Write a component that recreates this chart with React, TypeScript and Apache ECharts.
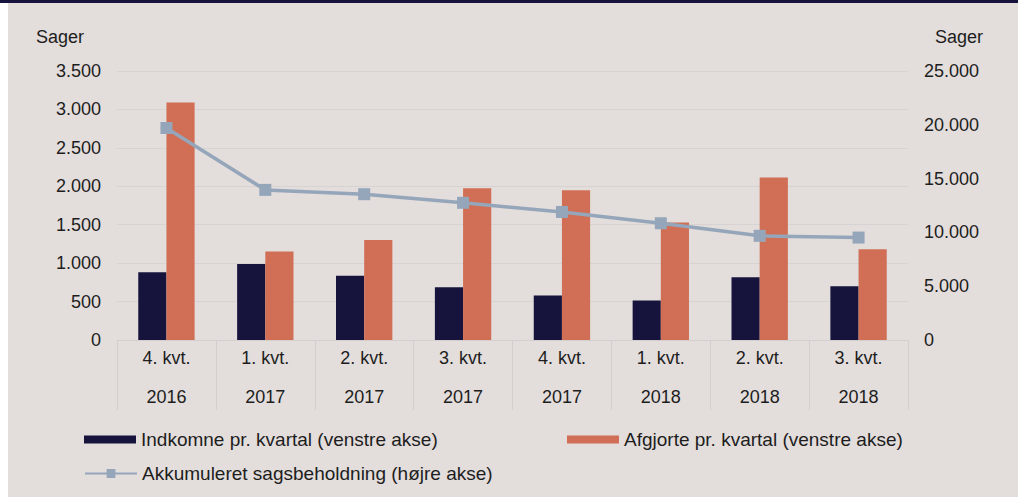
import React, { useEffect, useRef } from "react";
import * as echarts from "echarts";

const quarters = ["4. kvt.", "1. kvt.", "2. kvt.", "3. kvt.", "4. kvt.", "1. kvt.", "2. kvt.", "3. kvt."];
const years = ["2016", "2017", "2017", "2017", "2017", "2018", "2018", "2018"];
const indkomne = [880, 990, 835, 685, 580, 515, 815, 700];
const afgjorte = [3090, 1150, 1300, 1975, 1950, 1530, 2115, 1180];
const sagsbeholdning = [19700, 13950, 13550, 12750, 11900, 10850, 9680, 9520];

const seriesNames = [
  "Indkomne pr. kvartal (venstre akse)",
  "Afgjorte pr. kvartal (venstre akse)",
  "Akkumuleret sagsbeholdning (højre akse)",
];

const NAVY = "#16143c";
const ORANGE = "#d06f55";
const LINE = "#95a6ba";
const TEXT = "#1d1d1d";
const FONT = "Liberation Sans, Arial, sans-serif";

const fmt = (v: number) => String(v).replace(/\B(?=(\d{3})+(?!\d))/g, ".");

export default function App() {
  const ref = useRef<HTMLDivElement>(null);
  useEffect(() => {
    document.body.style.margin = "0";
    const chart = echarts.init(ref.current!, null, { renderer: "svg" });
    const legendText = { fontSize: 19, color: TEXT, fontFamily: FONT };
    chart.setOption({
      animation: false,
      backgroundColor: "transparent",
      textStyle: { fontFamily: FONT },
      grid: { left: 117, right: 110, top: 71, bottom: 157 },
      graphic: [
        { type: "rect", shape: { x: 0, y: 0, width: 1018, height: 3 }, style: { fill: NAVY } },
        { type: "text", x: 36, y: 37, style: { text: "Sager", fontSize: 18, fill: TEXT, fontFamily: FONT, verticalAlign: "middle" } },
        { type: "text", x: 935, y: 37, style: { text: "Sager", fontSize: 18, fill: TEXT, fontFamily: FONT, verticalAlign: "middle" } },
      ],
      legend: [
        {
          data: [seriesNames[0]], left: 79, top: 425, itemWidth: 52, itemHeight: 8, itemGap: 5,
          textStyle: legendText, icon: "rect",
        },
        {
          data: [seriesNames[1]], left: 562, top: 425, itemWidth: 52, itemHeight: 8, itemGap: 5,
          textStyle: legendText, icon: "rect",
        },
        {
          data: [seriesNames[2]], left: 79, top: 459, itemWidth: 52, itemHeight: 11, itemGap: 5,
          textStyle: legendText,
        },
      ],
      xAxis: {
        type: "category",
        data: quarters.map((q, i) => q + "\n" + years[i]),
        axisLine: { lineStyle: { color: "#d3cfce", width: 1 } },
        axisTick: { show: true, length: 70, interval: 0, lineStyle: { color: "#d3cfce" } },
        axisLabel: { interval: 0, fontSize: 18, color: TEXT, lineHeight: 39, margin: -2, fontFamily: FONT },
      },
      yAxis: [
        {
          type: "value", min: 0, max: 3500, interval: 500,
          axisLabel: { fontSize: 18, color: TEXT, margin: 16, formatter: (v: number) => fmt(v), fontFamily: FONT },
          axisLine: { show: false }, axisTick: { show: false },
          splitLine: { lineStyle: { color: "#d7d3d2", width: 1 } },
        },
        {
          type: "value", min: 0, max: 25000, interval: 5000, position: "right",
          axisLabel: { fontSize: 18, color: TEXT, margin: 16, formatter: (v: number) => fmt(v), fontFamily: FONT },
          axisLine: { show: false }, axisTick: { show: false },
          splitLine: { show: false },
        },
      ],
      series: [
        {
          name: seriesNames[0], type: "bar", data: indkomne, yAxisIndex: 0,
          itemStyle: { color: NAVY }, barWidth: "28.5%", barGap: "0%",
        },
        {
          name: seriesNames[1], type: "bar", data: afgjorte, yAxisIndex: 0,
          itemStyle: { color: ORANGE }, barWidth: "28.5%", barGap: "0%",
        },
        {
          name: seriesNames[2], type: "line", data: sagsbeholdning, yAxisIndex: 1,
          lineStyle: { color: LINE, width: 3.5 }, itemStyle: { color: LINE },
          symbol: "rect", symbolSize: 12, showSymbol: true, z: 5,
        },
      ],
    });
    return () => chart.dispose();
  }, []);
  return (
    <div style={{ position: "relative", width: 1018, height: 497, background: "#fff" }}>
      <div style={{ position: "absolute", left: 8, top: 0, right: 0, bottom: 0, background: "#e3dddc" }} />
      <div ref={ref} style={{ position: "absolute", left: 0, top: 0, width: 1018, height: 497 }} />
    </div>
  );
}
